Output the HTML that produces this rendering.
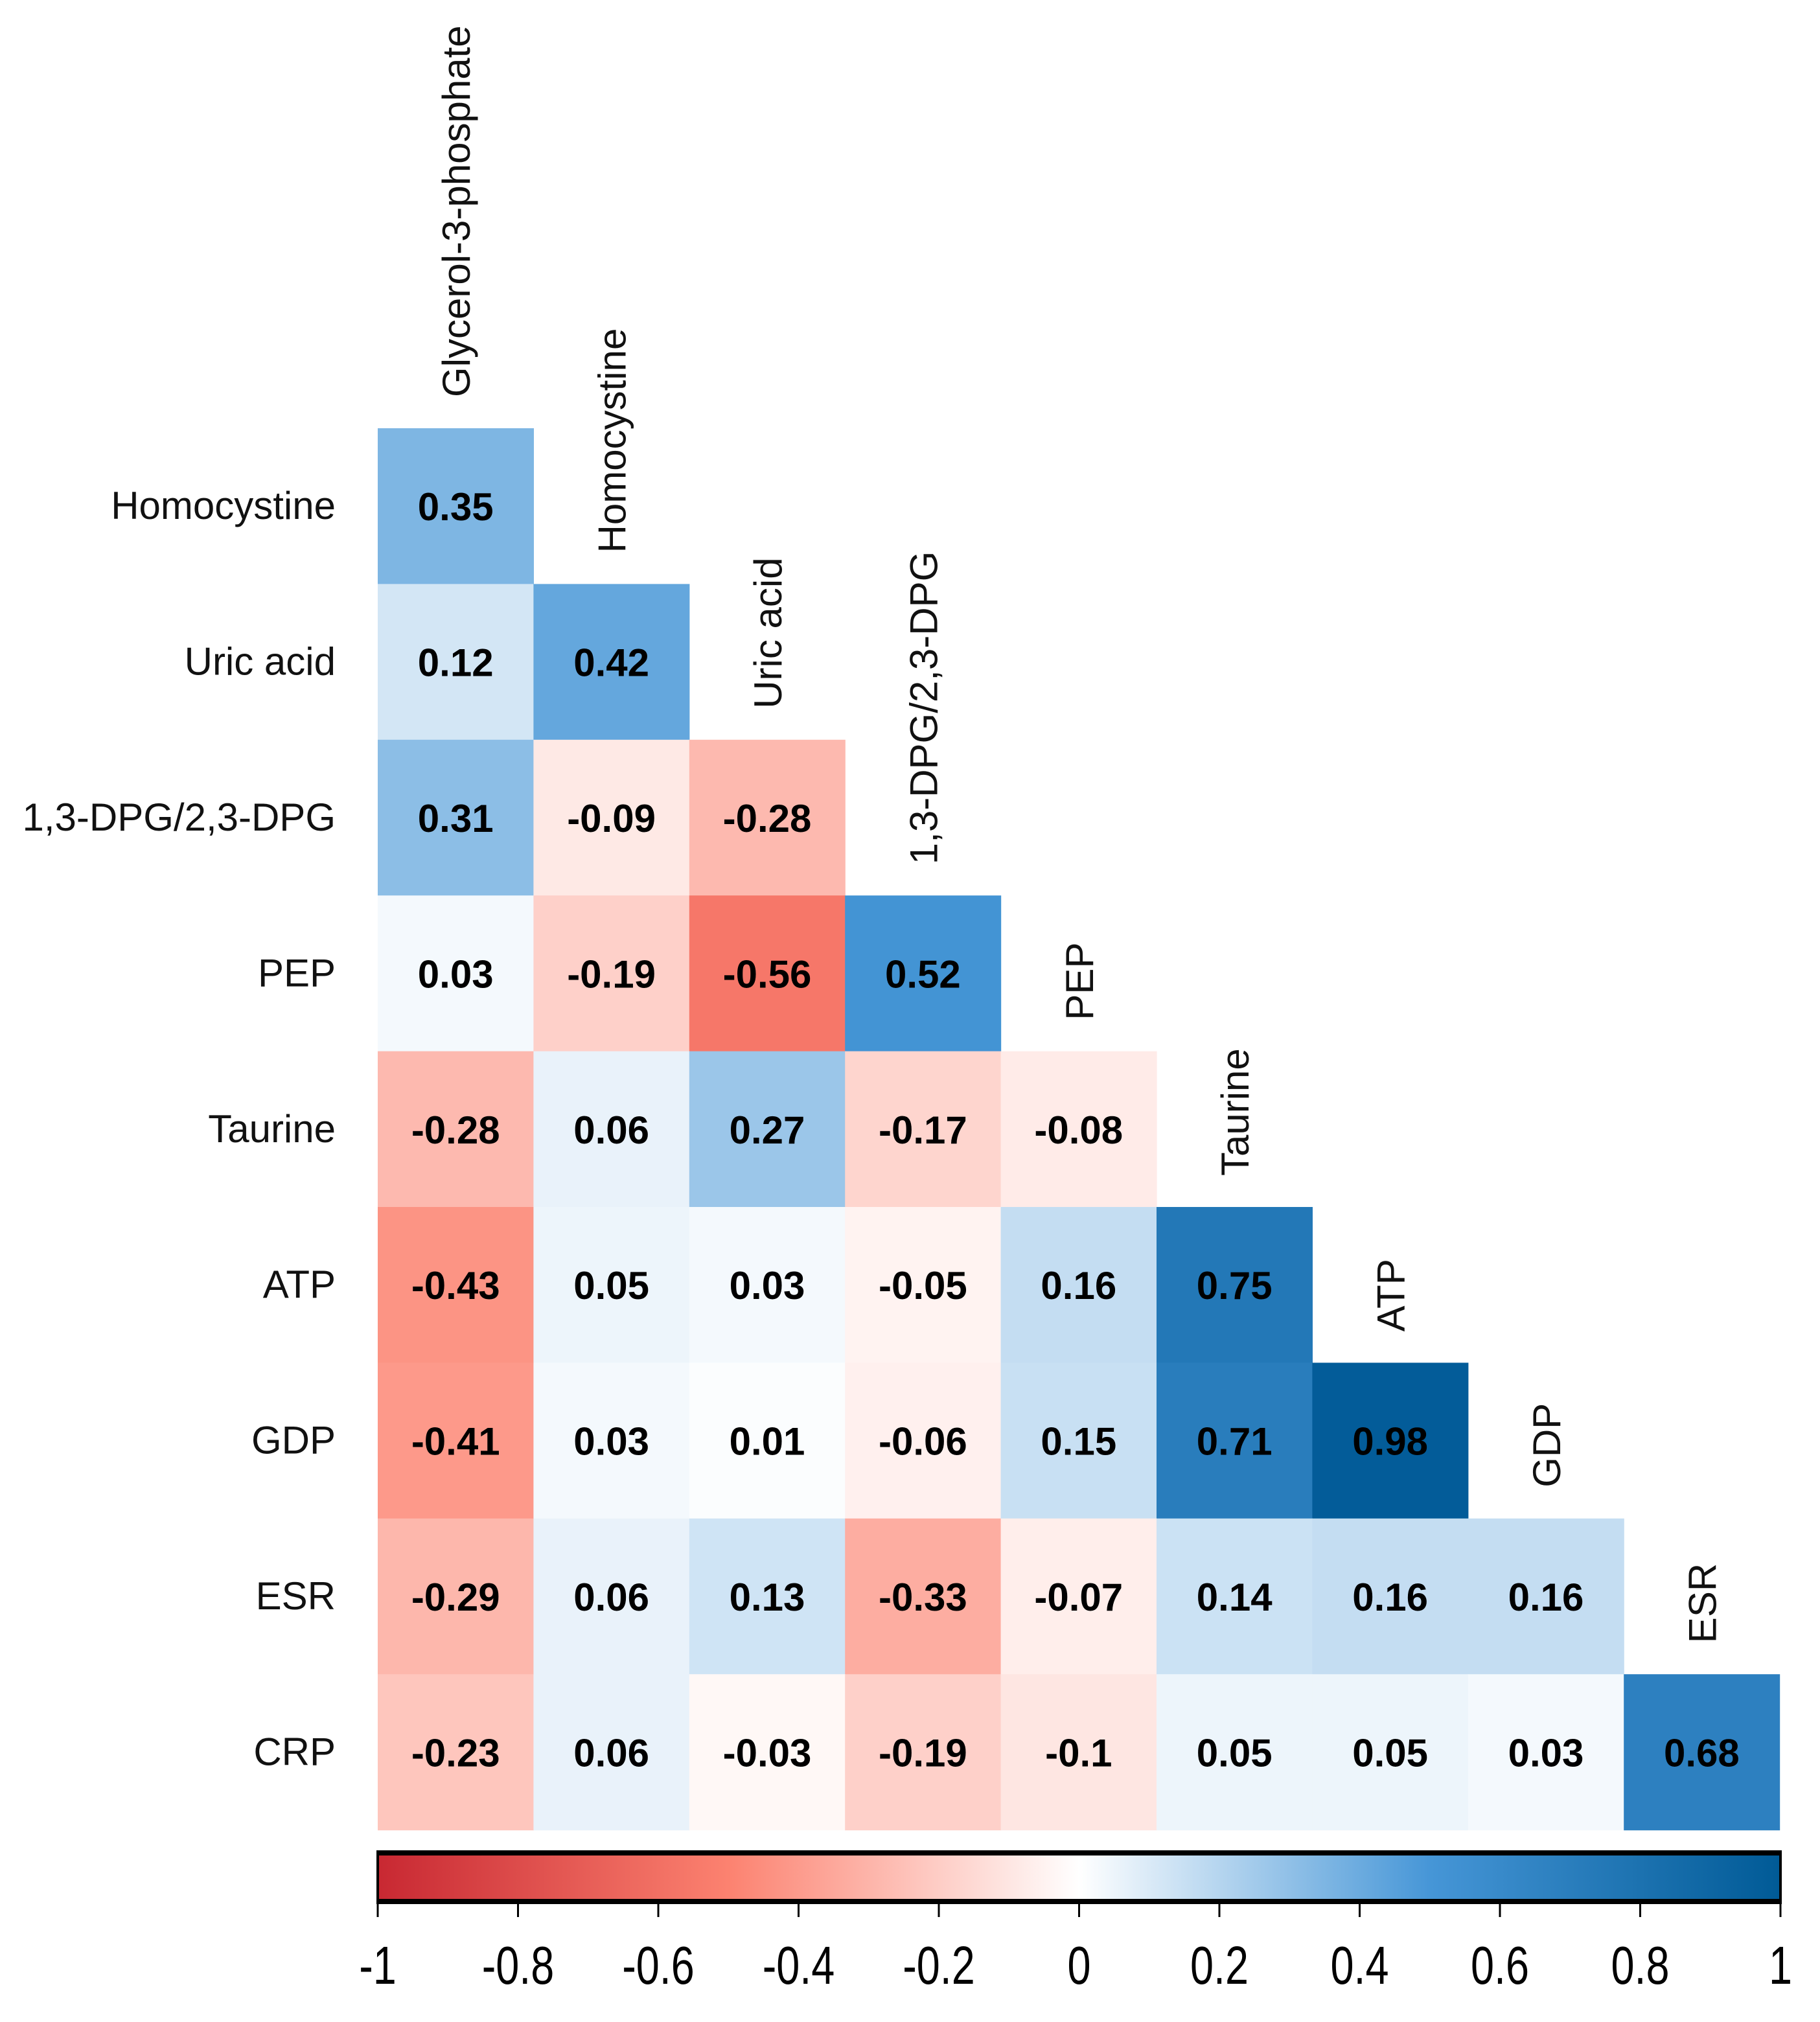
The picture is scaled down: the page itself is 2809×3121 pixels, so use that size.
<!DOCTYPE html>
<html><head><meta charset="utf-8">
<style>
html,body{margin:0;padding:0;background:#fff;}
svg{display:block;}
text{font-family:"Liberation Sans",sans-serif;}
</style></head>
<body>
<svg id="chart" width="2809" height="3121" viewBox="0 0 2809 3121" xmlns="http://www.w3.org/2000/svg">
<defs>
<linearGradient id="cbar" x1="0" x2="1" y1="0" y2="0">
<stop offset="0" stop-color="rgb(200,40,50)"/>
<stop offset="0.25" stop-color="rgb(252,130,112)"/>
<stop offset="0.5" stop-color="rgb(255,255,255)"/>
<stop offset="0.75" stop-color="rgb(70,150,215)"/>
<stop offset="1" stop-color="rgb(0,90,150)"/>
</linearGradient>
</defs>
<g id="cells"></g>
<g id="rowlabels"></g>
<g id="collabels"></g>
<g id="legend"></g>
</svg>
<script>
const colLabels = ["Glycerol-3-phosphate","Homocystine","Uric acid","1,3-DPG/2,3-DPG","PEP","Taurine","ATP","GDP","ESR"];
const rowLabels = ["Homocystine","Uric acid","1,3-DPG/2,3-DPG","PEP","Taurine","ATP","GDP","ESR","CRP"];
const corrValues = [
 [0.35],
 [0.12,0.42],
 [0.31,-0.09,-0.28],
 [0.03,-0.19,-0.56,0.52],
 [-0.28,0.06,0.27,-0.17,-0.08],
 [-0.43,0.05,0.03,-0.05,0.16,0.75],
 [-0.41,0.03,0.01,-0.06,0.15,0.71,0.98],
 [-0.29,0.06,0.13,-0.33,-0.07,0.14,0.16,0.16],
 [-0.23,0.06,-0.03,-0.19,-0.1,0.05,0.05,0.03,0.68]
];
const legendTicks = [-1,-0.8,-0.6,-0.4,-0.2,0,0.2,0.4,0.6,0.8,1];

const NS="http://www.w3.org/2000/svg";
const X0=583, Y0=661, CELL=240.4;
const xCol = c => X0 + c*CELL;
const yRow = r => Y0 + r*CELL;
const BX0=583, BX1=2748, BY0=2858, BY1=2937;
const xLeg = v => BX0 + (v+1)/2*(BX1-BX0);

const stops=[[-1,[200,40,50]],[-0.5,[252,130,112]],[0,[255,255,255]],[0.5,[70,150,215]],[1,[0,90,150]]];
function color(v){
  for(let i=0;i<stops.length-1;i++){
    const [a,ca]=stops[i],[b,cb]=stops[i+1];
    if(v>=a&&v<=b){const t=(v-a)/(b-a);
      return "rgb("+ca.map((x,k)=>Math.round(x+(cb[k]-x)*t)).join(",")+")";}
  }
  return "#fff";
}
function mk(tag,attrs,parent){const e=document.createElementNS(NS,tag);for(const k in attrs)e.setAttribute(k,attrs[k]);parent.appendChild(e);return e;}

const gc=document.getElementById('cells');
corrValues.forEach((row,r)=>{
  row.forEach((v,c)=>{
    const rect=mk('rect',{x:xCol(c),y:yRow(r),width:CELL+0.6,height:CELL+0.6,fill:color(v)},gc);
    
    
    const t=mk('text',{x:xCol(c)+CELL/2,y:yRow(r)+CELL/2+22,'text-anchor':'middle','font-size':60,'font-weight':'bold',fill:'#000'},gc);
    t.textContent=String(v);
    
    
  });
});
const gr=document.getElementById('rowlabels');
rowLabels.forEach((l,r)=>{
  const t=mk('text',{x:518,y:yRow(r)+CELL/2+20,'text-anchor':'end','font-size':60,fill:'#111'},gr);
  t.textContent=l;
  
  
});
const gl=document.getElementById('collabels');
colLabels.forEach((l,c)=>{
  const cx=xCol(c)+CELL/2+22, by=yRow(c)-48;
  const t=mk('text',{x:0,y:0,transform:'translate('+cx+','+by+') rotate(-90)','text-anchor':'start','font-size':60,fill:'#111'},gl);
  t.textContent=l;
  
  
});
const gg=document.getElementById('legend');
const bar=mk('rect',{x:BX0,y:BY0,width:BX1-BX0,height:BY1-BY0,fill:'url(#cbar)',stroke:'#000','stroke-width':4},gg);


mk('line',{x1:BX0,x2:BX1,y1:BY0+3,y2:BY0+3,stroke:'#000','stroke-width':6},gg);
mk('line',{x1:BX0,x2:BX1,y1:BY1-3,y2:BY1-3,stroke:'#000','stroke-width':6},gg);
legendTicks.forEach(v=>{
  const x=xLeg(v);
  const ln=mk('line',{x1:x,x2:x,y1:BY1,y2:BY1+22,stroke:'#000','stroke-width':3},gg);
  
  
  const t=mk('text',{x:0,y:0,transform:'translate('+x+',3062) scale(0.9,1.15)','text-anchor':'middle','font-size':72,fill:'#000'},gg);
  t.textContent=String(v);
  
  
});
</script>
</body></html>
